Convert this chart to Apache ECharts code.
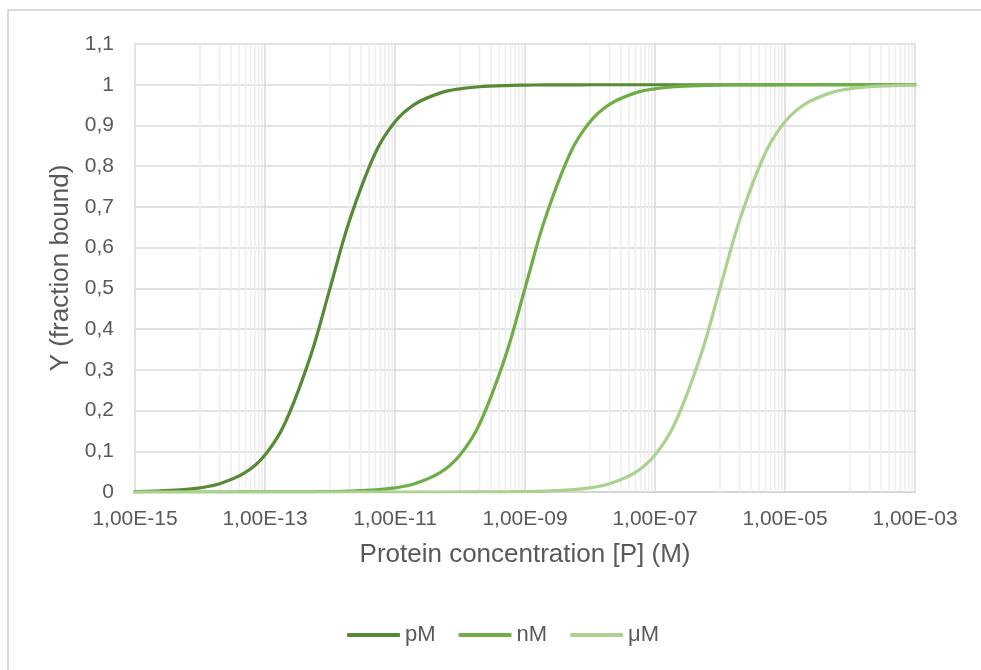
<!DOCTYPE html>
<html>
<head>
<meta charset="utf-8">
<script src="https://cdn.jsdelivr.net/npm/echarts@6/dist/echarts.min.js"></script>
<style>
html,body{margin:0;padding:0;background:#fff;}
#chart{width:981px;height:670px;}
</style>
</head>
<body>
<div id="chart"></div>
<script>
// Protein concentration [P] (M), sampled at 1, 2, 5 per decade
const concentrations = [
  1e-15, 2e-15, 5e-15, 1e-14, 2e-14, 5e-14, 1e-13, 2e-13, 5e-13,
  1e-12, 2e-12, 5e-12, 1e-11, 2e-11, 5e-11, 1e-10, 2e-10, 5e-10,
  1e-9, 2e-9, 5e-9, 1e-8, 2e-8, 5e-8, 1e-7, 2e-7, 5e-7,
  1e-6, 2e-6, 5e-6, 1e-5, 2e-5, 5e-5, 1e-4, 2e-4, 5e-4, 1e-3
];
// Y (fraction bound)
const pM = [
  0.001, 0.002, 0.005, 0.01, 0.02, 0.048, 0.091, 0.167, 0.333,
  0.5, 0.667, 0.833, 0.909, 0.952, 0.98, 0.99, 0.995, 0.998,
  0.999, 0.9995, 0.9998, 0.9999, 1, 1, 1, 1, 1,
  1, 1, 1, 1, 1, 1, 1, 1, 1, 1
];
const nM = [
  0, 0, 0, 0, 0, 0.0001, 0.0001, 0.0002, 0.0005,
  0.001, 0.002, 0.005, 0.01, 0.02, 0.048, 0.091, 0.167, 0.333,
  0.5, 0.667, 0.833, 0.909, 0.952, 0.98, 0.99, 0.995, 0.998,
  0.999, 0.9995, 0.9998, 0.9999, 1, 1, 1, 1, 1, 1
];
const uM = [
  0, 0, 0, 0, 0, 0, 0, 0, 0,
  0, 0, 0, 0, 0, 0, 0.0001, 0.0002, 0.0005,
  0.001, 0.002, 0.005, 0.01, 0.02, 0.048, 0.091, 0.167, 0.333,
  0.5, 0.667, 0.833, 0.909, 0.952, 0.98, 0.99, 0.995, 0.998, 0.999
];
const seriesNames = ['pM', 'nM', 'μM'];
const xMajorTicks = [1e-15, 1e-13, 1e-11, 1e-9, 1e-7, 1e-5, 1e-3];
const yTicks = [0, 0.1, 0.2, 0.3, 0.4, 0.5, 0.6, 0.7, 0.8, 0.9, 1, 1.1];

const colors = ['#568a36', '#70AD47', '#ABD291'];
const font = "'Liberation Sans', Arial, sans-serif";
const textColor = '#595959';

// minor gridlines: k * 10^e for the decade following each major tick
const minorX = [];
for (let i = 0; i < xMajorTicks.length - 1; i++) {
  const base = xMajorTicks[i] * 10;
  for (let k = 1; k <= 9; k++) minorX.push(k * base);
}
const majorX = xMajorTicks.slice(1);
const yBottom = yTicks[0];
const yTop = yTicks[yTicks.length - 1];

function verticalSegments(xs) {
  const d = [];
  xs.forEach(x => {
    d.push([x, yBottom]);
    d.push([x, yTop]);
    d.push([x, null]);
  });
  return d;
}

function fmtExp(v) {
  const e = Math.round(Math.log10(v));
  const s = e < 0 ? '-' : '+';
  const a = Math.abs(e);
  return '1,00E' + s + (a < 10 ? '0' + a : a);
}

const chart = echarts.init(document.getElementById('chart'), null, { renderer: 'canvas' });

const lineSeries = [pM, nM, uM].map((vals, i) => ({
  name: seriesNames[i],
  type: 'line',
  data: concentrations.map((c, j) => [c, vals[j]]),
  smooth: 0.35,
  showSymbol: false,
  symbol: 'none',
  z: 3,
  lineStyle: { color: colors[i], width: 3.2, cap: 'round' },
  itemStyle: { color: colors[i] },
  emphasis: { disabled: true }
}));

function gridSeries(name, xs, color, z) {
  return {
    name: name,
    type: 'line',
    data: verticalSegments(xs),
    symbol: 'none',
    showSymbol: false,
    connectNulls: false,
    smooth: false,
    z: z,
    silent: true,
    lineStyle: { color: color, width: 1.5 },
    emphasis: { disabled: true }
  };
}

chart.setOption({
  animation: false,
  textStyle: { fontFamily: font },
  graphic: [{
    type: 'rect',
    shape: { x: 8, y: 10, width: 1100, height: 800 },
    style: { fill: 'none', stroke: '#d9d9d9', lineWidth: 2 },
    z: -10
  }],
  grid: { left: 135, top: 44, width: 780, height: 448, containLabel: false },
  legend: {
    data: seriesNames.map(n => ({ name: n, icon: 'roundRect' })),
    bottom: 19,
    left: 342,
    itemWidth: 53,
    itemHeight: 4,
    itemGap: 23,
    textStyle: { fontSize: 22, color: textColor, fontFamily: font }
  },
  xAxis: {
    type: 'log',
    logBase: 10,
    min: 1e-15,
    max: 1e-3,
    interval: 1,
    name: 'Protein concentration [P] (M)',
    nameLocation: 'middle',
    nameGap: 50,
    nameTextStyle: { fontSize: 26, color: textColor, fontFamily: font },
    axisLine: { show: true, lineStyle: { color: '#cfcfcf', width: 1.5 } },
    axisTick: { show: false },
    splitLine: { show: false },
    axisLabel: {
      interval: 0,
      margin: 17,
      fontSize: 21,
      color: textColor,
      fontFamily: font,
      showMinLabel: true,
      showMaxLabel: true,
      formatter: function (v) {
        const e = Math.round(Math.log10(v));
        const match = xMajorTicks.some(t => Math.round(Math.log10(t)) === e);
        return match ? fmtExp(v) : '';
      }
    }
  },
  yAxis: {
    type: 'value',
    min: 0,
    max: 1.1,
    interval: 0.1,
    name: 'Y (fraction bound)',
    nameLocation: 'middle',
    nameGap: 59,
    nameTextStyle: { fontSize: 26, color: textColor, fontFamily: font },
    axisLine: { show: true, lineStyle: { color: '#d9d9d9', width: 1.5 } },
    axisTick: { show: false },
    splitLine: { show: true, lineStyle: { color: '#d9d9d9', width: 1.5 } },
    axisLabel: {
      margin: 21,
      fontSize: 21,
      color: textColor,
      fontFamily: font,
      formatter: function (v) {
        const r = Math.round(v * 10) / 10;
        return String(r).replace('.', ',');
      }
    }
  },
  series: [
    gridSeries('minorGrid', minorX, '#ededed', 1),
    gridSeries('majorGrid', majorX, '#d9d9d9', 2)
  ].concat(lineSeries)
});
</script>
</body>
</html>
